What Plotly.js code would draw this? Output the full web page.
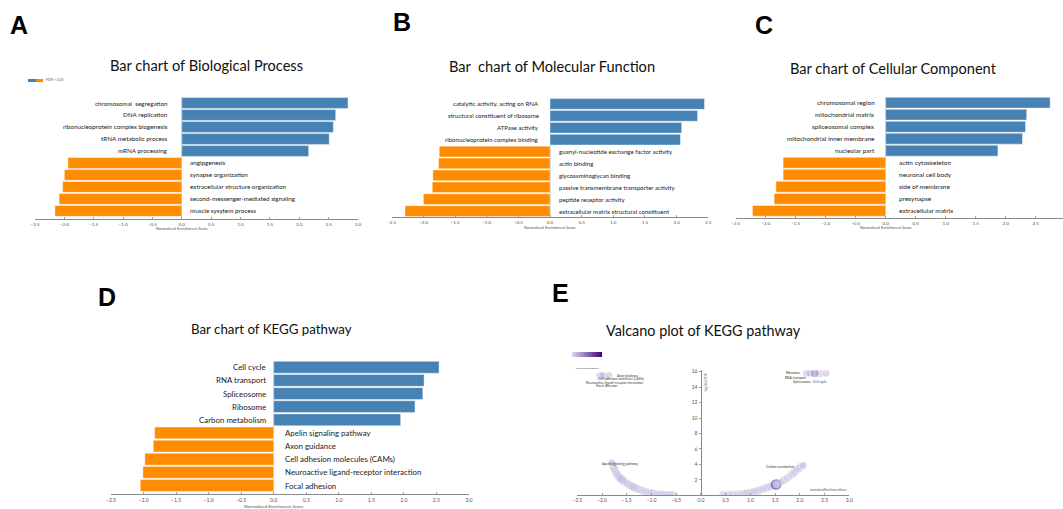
<!DOCTYPE html>
<html><head><meta charset="utf-8">
<script src="https://cdn.plot.ly/plotly-3.0.1.min.js"></script>
<style>html,body{margin:0;padding:0;background:#fff}#chart{width:1063px;height:509px}</style>
</head><body><div id="chart"></div>
<script>
// ---------- data ----------
const bpTerms = ['chromosomal  segregation','DNA replication','ribonucleoprotein complex biogenesis','tRNA metabolic process','mRNA processing','angipgenesis','synapse organization','extracellular structure organization','second-messenger-mediated signaling','muscle sysytem process'];
const bpNES = [2.83,2.62,2.58,2.51,2.16,-1.94,-2.00,-2.03,-2.09,-2.16];

const mfTerms = ['catalytic activity, acting on RNA','structural constituent of ribosome','ATPase activity','ribonucleoprotein complex binding','guanyl-nucleotide exchange factor activity','actin binding','glycosaminoglycan binding','passive transmembrane transporter activity','peptide receptor activity','extracellular matrix structural constituent'];
const mfNES = [2.44,2.33,2.08,2.06,-1.75,-1.76,-1.85,-1.86,-2.00,-2.29];

const ccTerms = ['chromosomal region','mitochondrial matrix','spliceosomal complex','mitochondrial inner membrane','nucleolar part','actin cytoskeleton','neuronal cell body','side of membrane','presynapse','extracellular matrix'];
const ccNES = [2.74,2.35,2.33,2.28,1.87,-1.71,-1.71,-1.83,-1.86,-2.22];

const keggTerms = ['Cell cycle','RNA transport','Spliceosome','Ribosome','Carbon metabolism','Apelin signaling pathway','Axon guidance','Cell adhesion molecules (CAMs)','Neuroactive ligand-receptor interaction','Focal adhesion'];
const keggNES = [2.54,2.31,2.29,2.17,1.95,-1.83,-1.85,-1.98,-2.01,-2.05];

// volcano: labelled pathways
const volcNames = ['Focal adhesion','Neuroactive ligand-receptor interaction','Cell adhesion molecules (CAMs)','Axon guidance','Ribosome','RNA transport','Spliceosome','Cell cycle','Apelin signaling pathway','Carbon metabolism'];
const volcNamedNES = [-2.05,-2.01,-1.98,-1.86,2.13,2.20,2.30,2.53,-1.80,2.07];
const volcNamedLogFDR = [15.5,15.5,15.5,15.5,15.8,15.8,15.8,15.8,4.2,3.87];
const volcNamedScore = [0.15,0.15,0.15,0.15,0.15,0.2,0.4,0.15,0.15,0.15];
// volcano: other pathways
const volcNES = [2.40,-1.78,-1.76,-1.73,-1.70,-1.65,-1.60,-1.55,-1.48,-1.42,-1.35,-1.28,-1.20,-1.12,-1.04,-0.96,-0.88,-0.80,-0.72,-0.64,-0.56,
  0.45,0.55,0.65,0.75,0.85,0.92,1.00,1.08,1.16,1.24,1.32,1.40,1.46,1.52,1.60,1.68,1.76,1.84,1.90,1.96,2.02];
const volcLogFDR = [15.8,3.9,3.5,3.1,2.7,2.35,2.05,1.75,1.5,1.25,1.02,0.82,0.62,0.45,0.32,0.22,0.15,0.10,0.07,0.05,0.03,
  0.03,0.05,0.07,0.10,0.16,0.22,0.33,0.45,0.60,0.78,0.98,1.15,1.28,1.40,1.65,1.95,2.30,2.70,3.05,3.40,3.70];
const volcScore = [0.15,0.12,0.12,0.12,0.12,0.15,0.25,0.12,0.12,0.12,0.22,0.12,0.12,0.12,0.12,0.12,0.12,0.12,0.12,0.12,0.12,
  0.12,0.12,0.12,0.12,0.12,0.12,0.12,0.12,0.12,0.12,0.12,0.12,0.12,0.9,0.12,0.12,0.12,0.12,0.12,0.12,0.12];

// ---------- helpers ----------
const W = 1063, H = 509;
const px = x => x / W, py = y => 1 - y / H;
const BLUE = '#4682b4', ORANGE = '#ff8c00';
const FONT = 'Lato, "Open Sans", sans-serif';

const traces = [];
const annotations = [];
const shapes = [];

function barPanel(n, terms, nes, opt) {
  const ax = n === 1 ? '' : String(n);
  traces.push({
    type: 'bar', orientation: 'h', x: nes, y: terms,
    xaxis: 'x' + ax, yaxis: 'y' + ax,
    marker: { color: nes.map(v => v >= 0 ? BLUE : ORANGE), line: { color: 'rgba(255,255,255,0.7)', width: 0.6 } },
    hoverinfo: 'x+y'
  });
  terms.forEach((t, i) => {
    const pos = nes[i] >= 0;
    annotations.push({
      xref: 'x' + ax, yref: 'y' + ax, x: 0, y: t, text: t, showarrow: false,
      xanchor: pos ? 'right' : 'left', xshift: pos ? -opt.gapL : opt.gapR,
      font: { family: FONT, size: opt.fs, color: '#1a1a1a' }
    });
  });
  annotations.push({
    xref: 'x' + ax, yref: 'paper', x: 0, y: py(opt.titleY), yanchor: 'middle',
    text: 'Normalized Enrichment Score', showarrow: false,
    font: { family: FONT, size: opt.tfs, color: '#555' }
  });
}

barPanel(1, bpTerms, bpNES, { fs: 6.3, gapL: 12, gapR: 6, titleY: 228, tfs: 4 });
barPanel(2, mfTerms, mfNES, { fs: 6.1, gapL: 9, gapR: 7, titleY: 227, tfs: 4 });
barPanel(3, ccTerms, ccNES, { fs: 6.5, gapL: 9, gapR: 11, titleY: 227, tfs: 4 });
barPanel(4, keggTerms, keggNES, { fs: 7.9, gapL: 6, gapR: 9, titleY: 506, tfs: 4.6 });

// volcano
const SCALE = [[0, '#dcd9ef'], [1, '#3f007d']];
traces.push({
  type: 'scatter', mode: 'markers', x: volcNES, y: volcLogFDR, xaxis: 'x5', yaxis: 'y5',
  marker: {
    size: volcScore.map(s => s > 0.8 ? 9 : 8),
    color: volcScore.map(s => s > 0.8 ? 0.35 : s), cmin: 0, cmax: 1,
    colorscale: SCALE, opacity: 0.5,
    line: { color: volcScore.map(s => s > 0.8 ? '#2d1a8a' : 'rgba(0,0,0,0)'), width: volcScore.map(s => s > 0.8 ? 1.6 : 0) },
    showscale: true,
    colorbar: {
      orientation: 'h', x: px(572), xanchor: 'left', y: py(352), yanchor: 'top',
      len: 30, lenmode: 'pixels', thickness: 5, thicknessmode: 'pixels',
      xpad: 0, ypad: 0, outlinewidth: 0, ticks: '', tickvals: [],
      tickfont: { family: FONT, size: 2, color: '#444' },
      title: { text: 'no.of.enrichedGenes', side: 'bottom', font: { family: FONT, size: 2.5, color: '#444' } }
    }
  },
  hoverinfo: 'x+y'
});
traces.push({
  type: 'scatter', mode: 'markers', x: volcNamedNES, y: volcNamedLogFDR, xaxis: 'x5', yaxis: 'y5',
  text: volcNames, hoverinfo: 'text+x+y',
  marker: { size: volcNamedScore.map(s => s > 0.3 ? 9 : 8), color: volcNamedScore, cmin: 0, cmax: 1,
    colorscale: SCALE, opacity: 0.55, showscale: false }
});
const volcLabelStyle = {
  'Focal adhesion': { xanchor: 'center', xshift: 7, yshift: -10 },
  'Neuroactive ligand-receptor interaction': { xanchor: 'center', xshift: 13, yshift: -7 },
  'Cell adhesion molecules (CAMs)': { xanchor: 'center', xshift: 18, yshift: -3 },
  'Axon guidance': { xanchor: 'left', xshift: 6, yshift: 0 },
  'Ribosome': { xanchor: 'right', xshift: -3, yshift: 0 },
  'RNA transport': { xanchor: 'center', xshift: -14, yshift: -5 },
  'Spliceosome': { xanchor: 'center', xshift: -13, yshift: -9 },
  'Cell cycle': { xanchor: 'center', xshift: -6, yshift: -9 },
  'Apelin signaling pathway': { xanchor: 'center', xshift: 8, yshift: -1 },
  'Carbon metabolism': { xanchor: 'right', xshift: -7, yshift: -2 }
};
volcNames.forEach((nm, i) => {
  const s = volcLabelStyle[nm];
  annotations.push({
    xref: 'x5', yref: 'y5', x: volcNamedNES[i], y: volcNamedLogFDR[i], text: nm, showarrow: false,
    xanchor: s.xanchor, yanchor: 'middle', xshift: s.xshift, yshift: s.yshift,
    font: { family: FONT, size: 3.3, color: '#333' }
  });
});
annotations.push({ xref: 'x5', yref: 'y5', x: 3.0, y: 0, yanchor: 'bottom', xanchor: 'right', yshift: 1,
  text: 'normalizedEnrichmentScore', showarrow: false, font: { family: FONT, size: 3, color: '#555' } });
annotations.push({ xref: 'x5', yref: 'y5', x: 0, y: 16.1, yanchor: 'top', xanchor: 'left', xshift: 1.5, textangle: -90,
  text: '-log10 of FDR', showarrow: false, font: { family: FONT, size: 3, color: '#555' } });

// titles
const titles = [
  ['Bar chart of Biological Process', 206, 65, 14.6],
  ['Bar  chart of Molecular Function', 552, 66.5, 14.6],
  ['Bar chart of Cellular Component', 893, 68, 14.6],
  ['Bar chart of KEGG pathway', 271, 329, 13.3],
  ['Valcano plot of KEGG pathway', 703, 330, 14.4]
];
titles.forEach(t => annotations.push({ xref: 'paper', yref: 'paper', x: px(t[1]), y: py(t[2]), xanchor: 'center', yanchor: 'middle',
  text: t[0], showarrow: false, font: { family: FONT, size: t[3], color: '#111' } }));
// panel letters
[['A', 19, 25], ['B', 402, 22], ['C', 764, 25], ['D', 107, 297], ['E', 560, 293]].forEach(l =>
  annotations.push({ xref: 'paper', yref: 'paper', x: px(l[1]), y: py(l[2]), xanchor: 'center', yanchor: 'middle',
    text: '<b>' + l[0] + '</b>', showarrow: false, font: { family: 'Arial, Liberation Sans, sans-serif', size: 25, color: '#000' } }));

// legend of panel A
shapes.push({ type: 'rect', xref: 'paper', yref: 'paper', x0: px(28), x1: px(36), y0: py(82), y1: py(79), fillcolor: BLUE, line: { width: 0 } });
shapes.push({ type: 'rect', xref: 'paper', yref: 'paper', x0: px(36), x1: px(43), y0: py(82), y1: py(79), fillcolor: ORANGE, line: { width: 0 } });
annotations.push({ xref: 'paper', yref: 'paper', x: px(44), y: py(80.5), xanchor: 'left', yanchor: 'middle',
  text: 'FDR < 0.05', showarrow: false, font: { family: FONT, size: 3.5, color: '#666' } });

// ---------- axes ----------
function xAx(d0, d1, r0, r1, anchor, tfs) {
  return {
    domain: [px(d0), px(d1)], range: [r0, r1], anchor: anchor,
    showgrid: false, zeroline: true, zerolinecolor: '#cfcfcf', zerolinewidth: 1,
    showline: true, linecolor: '#8a8a8a', linewidth: 1,
    ticks: 'inside', ticklen: 2.5, tickcolor: '#8a8a8a', tickwidth: 0.8,
    dtick: 0.5, tick0: 0, tickformat: '.1f',
    tickfont: { family: FONT, size: tfs, color: '#555' }, fixedrange: true
  };
}
function yAx(top, bottom, rBottom, anchor) {
  return {
    domain: [py(bottom), py(top)], type: 'category', range: [rBottom, -0.5], anchor: anchor,
    visible: false, fixedrange: true
  };
}

const layout = {
  width: W, height: H, margin: { l: 0, r: 0, t: 0, b: 0 },
  paper_bgcolor: '#fff', plot_bgcolor: 'rgba(0,0,0,0)', showlegend: false, bargap: 0.1,
  font: { family: FONT },
  xaxis: xAx(35, 358, -2.5, 3.0, 'y', 4.6), yaxis: yAx(97, 219, 9.67, 'x'),
  xaxis2: xAx(391.7, 708.3, -2.5, 2.5, 'y2', 4.6), yaxis2: yAx(98, 217, 9.5, 'x2'),
  xaxis3: xAx(735.7, 1063, -2.5, 2.955, 'y3', 4.6), yaxis3: yAx(96.7, 218, 9.6, 'x3'),
  xaxis4: xAx(111, 469, -2.5, 3.0, 'y4', 5.2), yaxis4: yAx(360.7, 494.3, 9.67, 'x4'),
  xaxis5: Object.assign(xAx(577.3, 849.3, -2.5, 3.0, 'y5', 5), { zeroline: false }),
  yaxis5: {
    domain: [py(495.3), py(370.2)], range: [0, 16.2], anchor: 'free', position: px(701),
    showgrid: false, zeroline: false, showline: true, linecolor: '#8a8a8a', linewidth: 1,
    ticks: 'outside', ticklen: 2.5, tickcolor: '#8a8a8a', tickwidth: 0.8,
    tickvals: [2, 4, 6, 8, 10, 12, 14, 16], tickfont: { family: FONT, size: 5, color: '#555' }, fixedrange: true
  },
  annotations: annotations, shapes: shapes
};

Plotly.newPlot('chart', traces, layout, { displayModeBar: false, staticPlot: true });
</script></body></html>
